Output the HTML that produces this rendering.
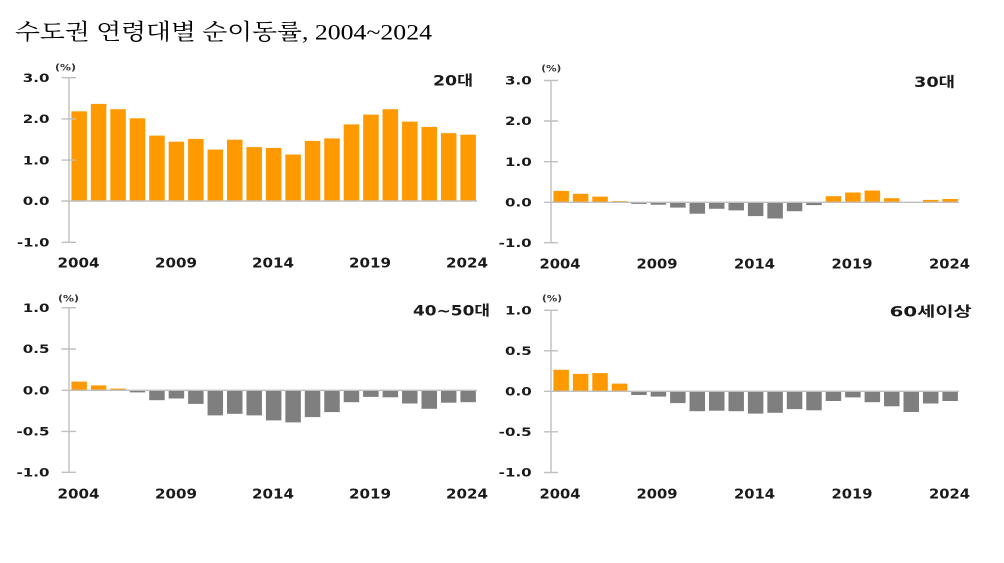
<!DOCTYPE html>
<html><head><meta charset="utf-8"><style>
html,body{margin:0;padding:0;background:#fff;}
svg{display:block;}
.yl{font-family:"DejaVu Sans","Liberation Sans",sans-serif;font-weight:bold;font-size:11.5px;fill:#1a1a1a;}
.xl{font-family:"DejaVu Sans","Liberation Sans",sans-serif;font-weight:bold;font-size:13.7px;fill:#1a1a1a;}
.pc{font-family:"DejaVu Sans","Liberation Sans",sans-serif;font-weight:bold;font-size:8.5px;fill:#333;}
.ct{font-family:"DejaVu Sans","Noto Sans CJK KR",sans-serif;font-weight:bold;font-size:14px;fill:#1a1a1a;}
.tt{font-family:"Liberation Serif","Noto Serif CJK SC",serif;font-size:22px;fill:#000;}
.ax{stroke:#BFBFBF;stroke-width:1.4;fill:none;}
.o rect{fill:#FF9900;stroke:#fff;stroke-width:0.8;}
.g rect{fill:#7F7F7F;stroke:#fff;stroke-width:0.8;}
</style></head><body>
<svg width="1004" height="563" viewBox="0 0 1004 563" xmlns="http://www.w3.org/2000/svg">
<rect width="1004" height="563" fill="#fff"/>
<text class="tt" x="15" y="39.5" textLength="417" lengthAdjust="spacingAndGlyphs">수도권 연령대별 순이동률, 2004~2024</text>

<!-- ===== Top-left 20대 ===== -->
<g class="o">
<rect x="71" y="110.9" width="16.3" height="90.1"/>
<rect x="90.45" y="103.5" width="16.3" height="97.5"/>
<rect x="109.9" y="108.8" width="16.3" height="92.2"/>
<rect x="129.35" y="117.9" width="16.3" height="83.1"/>
<rect x="148.8" y="135.2" width="16.3" height="65.8"/>
<rect x="168.25" y="141.3" width="16.3" height="59.7"/>
<rect x="187.7" y="138.5" width="16.3" height="62.5"/>
<rect x="207.15" y="149.2" width="16.3" height="51.8"/>
<rect x="226.6" y="139.3" width="16.3" height="61.7"/>
<rect x="246.05" y="146.7" width="16.3" height="54.3"/>
<rect x="265.5" y="147.5" width="16.3" height="53.5"/>
<rect x="284.95" y="154.1" width="16.3" height="46.9"/>
<rect x="304.4" y="140.5" width="16.3" height="60.5"/>
<rect x="323.85" y="138.0" width="16.3" height="63.0"/>
<rect x="343.3" y="124.0" width="16.3" height="77.0"/>
<rect x="362.75" y="114.2" width="16.3" height="86.8"/>
<rect x="382.2" y="108.8" width="16.3" height="92.2"/>
<rect x="401.65" y="121.2" width="16.3" height="79.8"/>
<rect x="421.1" y="126.5" width="16.3" height="74.5"/>
<rect x="440.55" y="132.7" width="16.3" height="68.3"/>
<rect x="460" y="134.3" width="16.3" height="66.7"/>
</g>
<path class="ax" d="M69 77.7V242.3M61.5 77.7H76M61.5 118.9H76M61.5 160.1H76M61.5 242.3H76M61.5 201H477"/>
<text class="yl" x="49.5" y="81.9" text-anchor="end" textLength="26.7" lengthAdjust="spacingAndGlyphs">3.0</text>
<text class="yl" x="49.5" y="123.1" text-anchor="end" textLength="26.7" lengthAdjust="spacingAndGlyphs">2.0</text>
<text class="yl" x="49.5" y="164.3" text-anchor="end" textLength="26.7" lengthAdjust="spacingAndGlyphs">1.0</text>
<text class="yl" x="49.5" y="205.2" text-anchor="end" textLength="26.7" lengthAdjust="spacingAndGlyphs">0.0</text>
<text class="yl" x="49.5" y="246.5" text-anchor="end" textLength="32.5" lengthAdjust="spacingAndGlyphs">-1.0</text>
<text class="pc" x="55" y="70.3" textLength="21" lengthAdjust="spacingAndGlyphs">(%)</text>
<text class="ct" x="473" y="85.5" text-anchor="end" textLength="40" lengthAdjust="spacingAndGlyphs">20대</text>
<g class="xl" text-anchor="middle">
<text x="78.5" y="267.3" textLength="42" lengthAdjust="spacingAndGlyphs">2004</text>
<text x="176" y="267.3" textLength="42" lengthAdjust="spacingAndGlyphs">2009</text>
<text x="273" y="267.3" textLength="42" lengthAdjust="spacingAndGlyphs">2014</text>
<text x="370" y="267.3" textLength="42" lengthAdjust="spacingAndGlyphs">2019</text>
<text x="467" y="267.3" textLength="42" lengthAdjust="spacingAndGlyphs">2024</text>
</g>

<!-- ===== Top-right 30대 ===== -->
<g class="o">
<rect x="553" y="190.5" width="16.3" height="11.8"/>
<rect x="572.45" y="193.4" width="16.3" height="8.9"/>
<rect x="591.9" y="196.2" width="16.3" height="6.1"/>
<rect x="611.35" y="200.7" width="16.3" height="1.6"/>
<rect x="825.3" y="195.8" width="16.3" height="6.5"/>
<rect x="844.75" y="192.1" width="16.3" height="10.2"/>
<rect x="864.2" y="190.1" width="16.3" height="12.2"/>
<rect x="883.65" y="197.8" width="16.3" height="4.5"/>
<rect x="903.1" y="201.5" width="16.3" height="0.8"/>
<rect x="922.55" y="199.5" width="16.3" height="2.8"/>
<rect x="942" y="198.6" width="16.3" height="3.7"/>
</g>
<g class="g">
<rect x="630.8" y="202.3" width="16.3" height="2.0"/>
<rect x="650.25" y="202.3" width="16.3" height="2.8"/>
<rect x="669.7" y="202.3" width="16.3" height="5.7"/>
<rect x="689.15" y="202.3" width="16.3" height="11.8"/>
<rect x="708.6" y="202.3" width="16.3" height="6.9"/>
<rect x="728.05" y="202.3" width="16.3" height="8.5"/>
<rect x="747.5" y="202.3" width="16.3" height="14.2"/>
<rect x="766.95" y="202.3" width="16.3" height="16.6"/>
<rect x="786.4" y="202.3" width="16.3" height="9.3"/>
<rect x="805.85" y="202.3" width="16.3" height="3.2"/>
</g>
<path class="ax" d="M551 80.5V242.7M544 80.5H558M544 121H558M544 161.7H558M544 242.7H558M544 202.3H959"/>
<text class="yl" x="531.7" y="84.7" text-anchor="end" textLength="26.7" lengthAdjust="spacingAndGlyphs">3.0</text>
<text class="yl" x="531.7" y="125.2" text-anchor="end" textLength="26.7" lengthAdjust="spacingAndGlyphs">2.0</text>
<text class="yl" x="531.7" y="165.9" text-anchor="end" textLength="26.7" lengthAdjust="spacingAndGlyphs">1.0</text>
<text class="yl" x="531.7" y="206.5" text-anchor="end" textLength="26.7" lengthAdjust="spacingAndGlyphs">0.0</text>
<text class="yl" x="531.7" y="246.9" text-anchor="end" textLength="33" lengthAdjust="spacingAndGlyphs">-1.0</text>
<text class="pc" x="541.3" y="71.5" textLength="20" lengthAdjust="spacingAndGlyphs">(%)</text>
<text class="ct" x="955" y="87" text-anchor="end" textLength="41" lengthAdjust="spacingAndGlyphs">30대</text>
<g class="xl" text-anchor="middle">
<text x="560" y="268.3" textLength="41" lengthAdjust="spacingAndGlyphs">2004</text>
<text x="657" y="268.3" textLength="41" lengthAdjust="spacingAndGlyphs">2009</text>
<text x="754.5" y="268.3" textLength="41" lengthAdjust="spacingAndGlyphs">2014</text>
<text x="852" y="268.3" textLength="41" lengthAdjust="spacingAndGlyphs">2019</text>
<text x="949.5" y="268.3" textLength="41" lengthAdjust="spacingAndGlyphs">2024</text>
</g>

<!-- ===== Bottom-left 40~50대 ===== -->
<g class="o">
<rect x="71" y="381.2" width="16.3" height="9.1"/>
<rect x="90.45" y="385.0" width="16.3" height="5.3"/>
<rect x="109.9" y="388.2" width="16.3" height="2.1"/>
</g>
<g class="g">
<rect x="129.35" y="390.3" width="16.3" height="2.5"/>
<rect x="148.8" y="390.3" width="16.3" height="10.3"/>
<rect x="168.25" y="390.3" width="16.3" height="8.6"/>
<rect x="187.7" y="390.3" width="16.3" height="14.0"/>
<rect x="207.15" y="390.3" width="16.3" height="25.5"/>
<rect x="226.6" y="390.3" width="16.3" height="23.9"/>
<rect x="246.05" y="390.3" width="16.3" height="25.5"/>
<rect x="265.5" y="390.3" width="16.3" height="30.5"/>
<rect x="284.95" y="390.3" width="16.3" height="32.5"/>
<rect x="304.4" y="390.3" width="16.3" height="27.2"/>
<rect x="323.85" y="390.3" width="16.3" height="22.2"/>
<rect x="343.3" y="390.3" width="16.3" height="12.3"/>
<rect x="362.75" y="390.3" width="16.3" height="7.0"/>
<rect x="382.2" y="390.3" width="16.3" height="7.4"/>
<rect x="401.65" y="390.3" width="16.3" height="13.6"/>
<rect x="421.1" y="390.3" width="16.3" height="18.9"/>
<rect x="440.55" y="390.3" width="16.3" height="12.8"/>
<rect x="460" y="390.3" width="16.3" height="12.3"/>
</g>
<path class="ax" d="M69 307.7V472.3M61.5 307.7H76M61.5 349H76M61.5 431.4H76M61.5 472.3H76M61.5 390.3H477"/>
<text class="yl" x="49.5" y="311.9" text-anchor="end" textLength="26.7" lengthAdjust="spacingAndGlyphs">1.0</text>
<text class="yl" x="49.5" y="353.2" text-anchor="end" textLength="26.7" lengthAdjust="spacingAndGlyphs">0.5</text>
<text class="yl" x="49.5" y="394.5" text-anchor="end" textLength="26.7" lengthAdjust="spacingAndGlyphs">0.0</text>
<text class="yl" x="49.5" y="435.6" text-anchor="end" textLength="33" lengthAdjust="spacingAndGlyphs">-0.5</text>
<text class="yl" x="49.5" y="476.5" text-anchor="end" textLength="33" lengthAdjust="spacingAndGlyphs">-1.0</text>
<text class="pc" x="58" y="301.5" textLength="21" lengthAdjust="spacingAndGlyphs">(%)</text>
<text class="ct" x="490" y="315.5" text-anchor="end" textLength="77" lengthAdjust="spacingAndGlyphs">40~50대</text>
<g class="xl" text-anchor="middle">
<text x="78.5" y="498.3" textLength="42" lengthAdjust="spacingAndGlyphs">2004</text>
<text x="176" y="498.3" textLength="42" lengthAdjust="spacingAndGlyphs">2009</text>
<text x="273" y="498.3" textLength="42" lengthAdjust="spacingAndGlyphs">2014</text>
<text x="370" y="498.3" textLength="42" lengthAdjust="spacingAndGlyphs">2019</text>
<text x="467" y="498.3" textLength="42" lengthAdjust="spacingAndGlyphs">2024</text>
</g>

<!-- ===== Bottom-right 60세이상 ===== -->
<g class="o">
<rect x="553" y="369.4" width="16.3" height="21.9"/>
<rect x="572.45" y="373.5" width="16.3" height="17.8"/>
<rect x="591.9" y="372.7" width="16.3" height="18.6"/>
<rect x="611.35" y="383.2" width="16.3" height="8.1"/>
</g>
<g class="g">
<rect x="630.8" y="391.3" width="16.3" height="4.1"/>
<rect x="650.25" y="391.3" width="16.3" height="5.7"/>
<rect x="669.7" y="391.3" width="16.3" height="12.2"/>
<rect x="689.15" y="391.3" width="16.3" height="20.3"/>
<rect x="708.6" y="391.3" width="16.3" height="19.8"/>
<rect x="728.05" y="391.3" width="16.3" height="20.3"/>
<rect x="747.5" y="391.3" width="16.3" height="22.7"/>
<rect x="766.95" y="391.3" width="16.3" height="21.9"/>
<rect x="786.4" y="391.3" width="16.3" height="18.2"/>
<rect x="805.85" y="391.3" width="16.3" height="19.4"/>
<rect x="825.3" y="391.3" width="16.3" height="10.1"/>
<rect x="844.75" y="391.3" width="16.3" height="6.5"/>
<rect x="864.2" y="391.3" width="16.3" height="11.3"/>
<rect x="883.65" y="391.3" width="16.3" height="15.4"/>
<rect x="903.1" y="391.3" width="16.3" height="21.1"/>
<rect x="922.55" y="391.3" width="16.3" height="12.6"/>
<rect x="942" y="391.3" width="16.3" height="10.1"/>
</g>
<path class="ax" d="M551 310.3V472.5M544 310.3H558M544 350.8H558M544 431.8H558M544 472.5H558M544 391.3H959"/>
<text class="yl" x="531.7" y="314.5" text-anchor="end" textLength="26.7" lengthAdjust="spacingAndGlyphs">1.0</text>
<text class="yl" x="531.7" y="355" text-anchor="end" textLength="26.7" lengthAdjust="spacingAndGlyphs">0.5</text>
<text class="yl" x="531.7" y="395.5" text-anchor="end" textLength="26.7" lengthAdjust="spacingAndGlyphs">0.0</text>
<text class="yl" x="531.7" y="436" text-anchor="end" textLength="33" lengthAdjust="spacingAndGlyphs">-0.5</text>
<text class="yl" x="531.7" y="476.7" text-anchor="end" textLength="33" lengthAdjust="spacingAndGlyphs">-1.0</text>
<text class="pc" x="542" y="301.5" textLength="20" lengthAdjust="spacingAndGlyphs">(%)</text>
<text class="ct" x="971.7" y="316.5" text-anchor="end" textLength="82" lengthAdjust="spacingAndGlyphs">60세이상</text>
<g class="xl" text-anchor="middle">
<text x="560" y="498.3" textLength="41" lengthAdjust="spacingAndGlyphs">2004</text>
<text x="657" y="498.3" textLength="41" lengthAdjust="spacingAndGlyphs">2009</text>
<text x="754.5" y="498.3" textLength="41" lengthAdjust="spacingAndGlyphs">2014</text>
<text x="852" y="498.3" textLength="41" lengthAdjust="spacingAndGlyphs">2019</text>
<text x="949.5" y="498.3" textLength="41" lengthAdjust="spacingAndGlyphs">2024</text>
</g>
</svg>
</body></html>
